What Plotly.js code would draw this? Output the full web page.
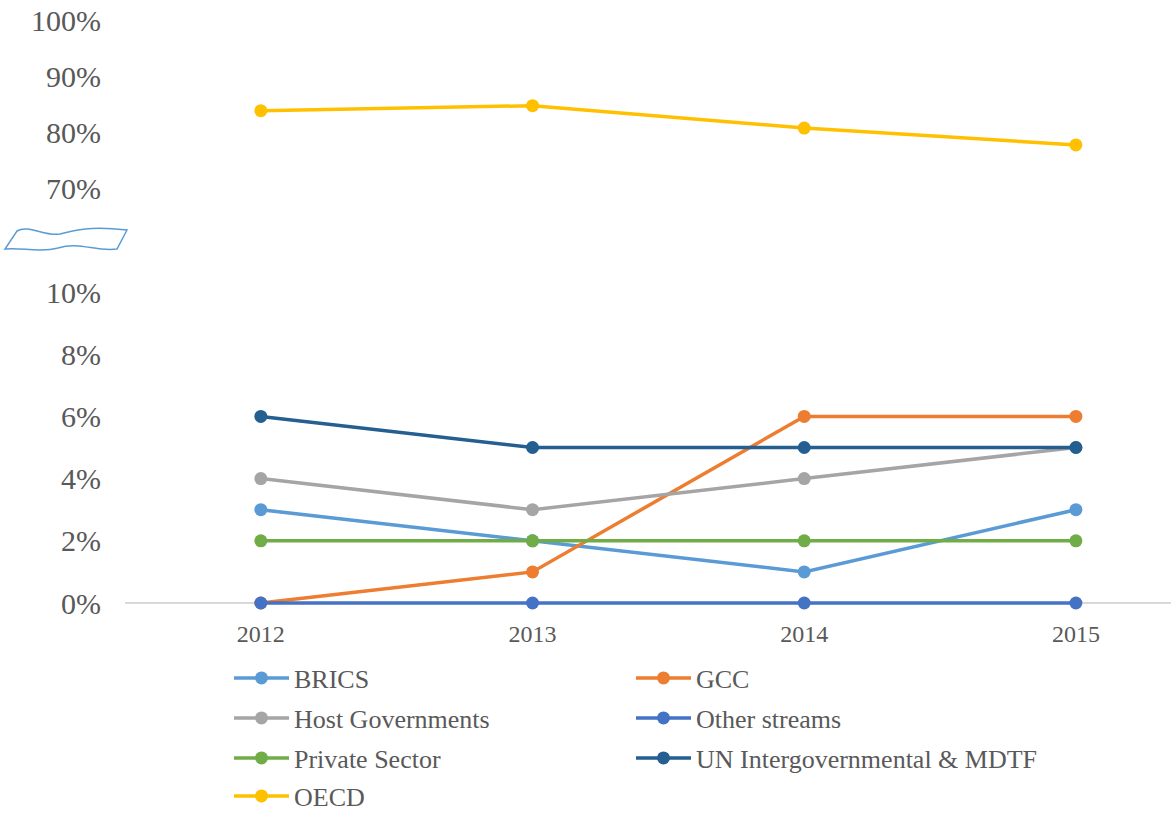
<!DOCTYPE html>
<html>
<head>
<meta charset="utf-8">
<script src="https://cdn.plot.ly/plotly-3.0.1.min.js"></script>
<style>html,body{margin:0;padding:0;background:#fff}#chart{width:1171px;height:814px}</style>
</head>
<body>
<div id="chart"></div>
<script>
const years = ['2012', '2013', '2014', '2015'];
const brics = [3, 2, 1, 3];
const gcc = [0, 1, 6, 6];
const hostGov = [4, 3, 4, 5];
const otherStreams = [0, 0, 0, 0];
const privateSector = [2, 2, 2, 2];
const unInter = [6, 5, 5, 5];
const oecd = [83.8, 84.7, 80.7, 77.7];
const lowTicks = [0, 2, 4, 6, 8, 10];
const highTicks = [70, 80, 90, 100];

const W = 1171, H = 814;
const px = v => v / W;
const py = v => 1 - v / H;

// legend slots: [left px, centre y px]
const series = [
  {name: 'BRICS', y: brics, color: '#5B9BD5', axis: 'y', slot: [229, 678]},
  {name: 'GCC', y: gcc, color: '#ED7D31', axis: 'y', slot: [631, 678]},
  {name: 'Host Governments', y: hostGov, color: '#A5A5A5', axis: 'y', slot: [229, 718]},
  {name: 'Other streams', y: otherStreams, color: '#4472C4', axis: 'y', slot: [631, 718]},
  {name: 'Private Sector', y: privateSector, color: '#70AD47', axis: 'y', slot: [229, 758]},
  {name: 'UN Intergovernmental &amp; MDTF', y: unInter, color: '#255E91', axis: 'y', slot: [631, 758]},
  {name: 'OECD', y: oecd, color: '#FFC000', axis: 'y2', slot: [229, 796]}
];

const legendIds = series.map((s, i) => i === 0 ? 'legend' : 'legend' + (i + 1));

const data = series.map((s, i) => ({
  type: 'scatter', mode: 'lines+markers', x: years, y: s.y, name: s.name,
  xaxis: 'x', yaxis: s.axis, legend: legendIds[i], cliponaxis: false,
  line: {color: s.color, width: 3.5},
  marker: {color: s.color, size: 13},
  hoverinfo: 'x+y+name'
}));

const tickFont = {family: 'Liberation Serif', size: 30, color: '#595959'};

// broken-axis squiggle (decoration)
function squigglePath() {
  let d = 'M' + px(17) + ',' + py(231);
  d += ' C' + px(28) + ',' + py(224) + ' ' + px(45) + ',' + py(237) + ' ' + px(60) + ',' + py(234);
  d += ' C' + px(75) + ',' + py(230) + ' ' + px(90) + ',' + py(226) + ' ' + px(127) + ',' + py(230);
  d += ' L' + px(117) + ',' + py(249);
  d += ' C' + px(95) + ',' + py(252) + ' ' + px(80) + ',' + py(241) + ' ' + px(58) + ',' + py(248);
  d += ' C' + px(40) + ',' + py(253) + ' ' + px(20) + ',' + py(247) + ' ' + px(5) + ',' + py(249);
  d += ' Z';
  return d;
}

const layout = {
  width: W, height: H,
  margin: {l: 0, r: 0, t: 0, b: 0, autoexpand: false},
  paper_bgcolor: '#fff', plot_bgcolor: 'rgba(0,0,0,0)',
  showlegend: true,
  xaxis: {
    type: 'category', domain: [px(125), 1], range: [-0.5, 3.35],
    anchor: 'y', showgrid: false, zeroline: false, showline: false, ticks: '',
    tickfont: {family: 'Liberation Serif', size: 24, color: '#595959'},
    ticklabelstandoff: 5, fixedrange: true
  },
  yaxis: {
    domain: [py(603 + 0.3 * 31.1), py(292 - 0.3 * 31.1)], range: [-0.3, 10.3],
    anchor: 'x', showgrid: false, zeroline: true, zerolinecolor: '#D9D9D9', zerolinewidth: 1.5,
    showline: false, ticks: '', tickvals: lowTicks, ticktext: lowTicks.map(v => v + '%'),
    tickfont: tickFont, ticklabelstandoff: 23, fixedrange: true
  },
  yaxis2: {
    domain: [py(260), py(10)], range: [70 - (260 - 188) / 5.6, 100 + 10 / 5.6],
    anchor: 'x', showgrid: false, zeroline: false, showline: false, ticks: '',
    tickvals: highTicks, ticktext: highTicks.map(v => v + '%'),
    tickfont: tickFont, ticklabelstandoff: 23, fixedrange: true
  },
  shapes: [{
    type: 'path', xref: 'paper', yref: 'paper', path: squigglePath(),
    line: {color: '#5B9BD5', width: 1.5}, fillcolor: 'rgba(0,0,0,0)'
  }]
};

series.forEach((s, i) => {
  layout[legendIds[i]] = {
    orientation: 'h', xref: 'paper', yref: 'paper', xanchor: 'left', yanchor: 'middle',
    x: px(s.slot[0]), y: py(s.slot[1]), itemwidth: 55,
    font: {family: 'Liberation Serif', size: 26, color: '#595959'},
    bgcolor: 'rgba(0,0,0,0)', itemclick: false, itemdoubleclick: false
  };
});

Plotly.newPlot('chart', data, layout, {displayModeBar: false, staticPlot: true});
</script>
</body>
</html>
